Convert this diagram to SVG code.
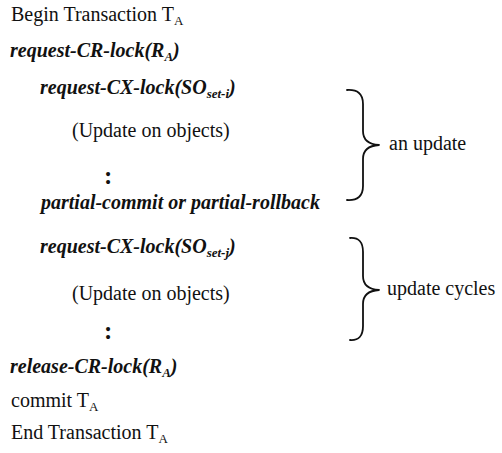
<svg xmlns="http://www.w3.org/2000/svg" width="502" height="453" viewBox="0 0 502 453">
  <style>
    text { font-family: "Liberation Serif", "Times New Roman", serif; font-size: 20px; fill: #111; }
    .op { font-weight: bold; font-style: italic; }
    .sub { font-size: 13px; }
    .dots { font-weight: bold; font-size: 25px; }
    .brace { fill: none; stroke: #111; stroke-width: 1.8; stroke-linecap: round; stroke-linejoin: round; }
  </style>
  <rect width="502" height="453" fill="#fff"/>

  <!-- transaction script, one statement per line -->
  <text x="11" y="21">Begin Transaction T<tspan class="sub" dy="4">A</tspan></text>
  <text class="op" x="10" y="57">request-CR-lock(R<tspan class="sub" dy="4">A</tspan><tspan dy="-4">)</tspan></text>
  <text class="op" x="40" y="94">request-CX-lock(SO<tspan class="sub" dy="4">set-i</tspan><tspan dy="-4">)</tspan></text>
  <text x="72" y="137">(Update on objects)</text>
  <text class="dots" x="104" y="184">:</text>
  <text class="op" x="41" y="209">partial-commit or partial-rollback</text>
  <text class="op" x="40" y="253">request-CX-lock(SO<tspan class="sub" dy="4">set-j</tspan><tspan dy="-4">)</tspan></text>
  <text x="72" y="300">(Update on objects)</text>
  <text class="dots" x="104" y="339">:</text>
  <text class="op" x="10" y="373">release-CR-lock(R<tspan class="sub" dy="4">A</tspan><tspan dy="-4">)</tspan></text>
  <text x="11" y="407">commit T<tspan class="sub" dy="4">A</tspan></text>
  <text x="11" y="439">End Transaction T<tspan class="sub" dy="4">A</tspan></text>

  <!-- right-hand braces with their labels -->
  <g id="brace-update">
    <path class="brace" d="M347,90 Q363,89 363,104 L363,131 Q363,144 379,145 Q363,146 363,159 L363,186 Q363,201 347,200"/>
    <text x="389" y="150">an update</text>
  </g>
  <g id="brace-cycles">
    <path class="brace" d="M350,238 Q363,237 363,252 L363,276 Q363,289 379,290 Q363,291 363,304 L363,326 Q363,341 350,340"/>
    <text x="387" y="295">update cycles</text>
  </g>
</svg>
